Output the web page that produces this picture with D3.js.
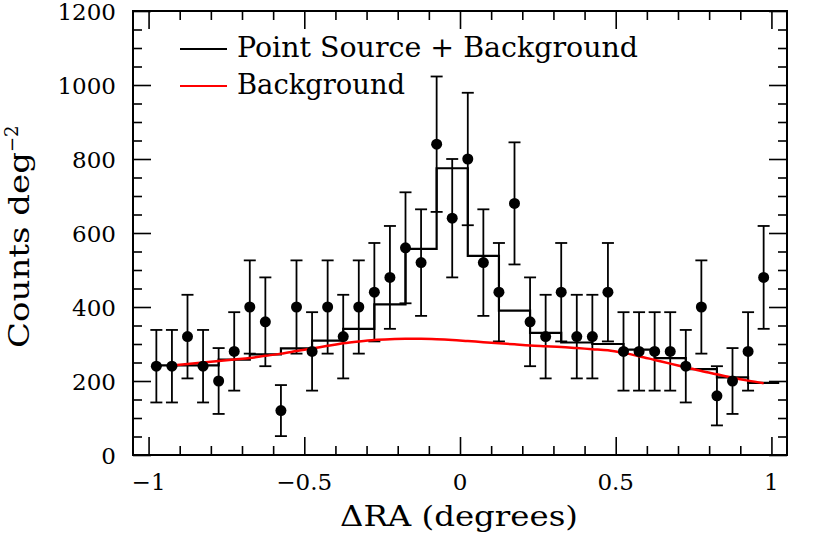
<!DOCTYPE html>
<html lang="en">
<head>
<meta charset="utf-8">
<title>Counts vs dRA</title>
<script src="https://cdn.jsdelivr.net/npm/d3@7"></script>
<style>
  body { margin: 0; background: #fff; }
  text { font-family: "DejaVu Serif", "Liberation Serif", serif; fill: #000; }
</style>
</head>
<body>
<script>
// ---- data ----
const pointX = [-0.975, -0.925, -0.875, -0.825, -0.775, -0.725, -0.675, -0.625, -0.575, -0.525,
                -0.475, -0.425, -0.375, -0.325, -0.275, -0.225, -0.175, -0.125, -0.075, -0.025,
                 0.025,  0.075,  0.125,  0.175,  0.225,  0.275,  0.325,  0.375,  0.425,  0.475,
                 0.525,  0.575,  0.625,  0.675,  0.725,  0.775,  0.825,  0.875,  0.925,  0.975];
const counts = [240, 240, 320, 240, 200, 280, 400, 360, 120, 400,
                280, 400, 320, 400, 440, 480, 560, 520, 840, 640,
                800, 520, 440, 680, 360, 320, 440, 320, 320, 440,
                280, 280, 280, 280, 240, 400, 160, 200, 280, 480];
const countErr = [98, 98, 113, 98, 89, 106, 126, 120, 69, 126,
                  106, 126, 113, 126, 133, 139, 150, 144, 183, 160,
                  179, 144, 133, 165, 120, 113, 133, 113, 113, 133,
                  106, 106, 106, 106, 98, 126, 80, 89, 106, 139];

// model histogram (point source + background), bin edges and heights
const binEdges = [-0.975, -0.875, -0.775, -0.675, -0.575, -0.475, -0.375, -0.275, -0.175, -0.075,
                   0.025,  0.125,  0.225,  0.325,  0.425,  0.525,  0.625,  0.725,  0.825,  0.925, 1.025];
const modelVals = [242, 242, 258, 272, 288, 309, 341, 407, 557, 775,
                   538, 390, 330, 304, 300, 285, 262, 232, 210, 195];

// background curve
const bgX = [-0.925, -0.875, -0.825, -0.775, -0.725, -0.675, -0.625, -0.575, -0.525, -0.475,
             -0.425, -0.375, -0.325, -0.275, -0.225, -0.175, -0.125, -0.075, -0.025,  0.025,
              0.075,  0.125,  0.175,  0.225,  0.275,  0.325,  0.375,  0.425,  0.475,  0.525,
              0.575,  0.625,  0.675,  0.725,  0.775,  0.825,  0.875,  0.925,  0.975];
const bgVals = [242, 246, 250, 254, 258, 262, 268, 274, 281, 288,
                295, 302, 307, 311, 313, 314, 314, 313, 311, 308,
                305, 302, 299, 296, 294, 292, 289, 286, 283, 276,
                267, 257, 247, 237, 227, 218, 209, 201, 194];

const xTicks = [-1, -0.5, 0, 0.5, 1];
const yTicks = [0, 200, 400, 600, 800, 1000, 1200];
const legendLabels = ["Point Source + Background", "Background"];

// ---- layout ----
const W = 830, H = 544;
const mLeft = 133, mRight = 787, mTop = 11, mBottom = 455;

const svg = d3.select("body").append("svg")
    .attr("width", W).attr("height", H);

const x = d3.scaleLinear().domain([-1.05, 1.05]).range([mLeft, mRight]);
const y = d3.scaleLinear().domain([0, 1200]).range([mBottom, mTop]);

const xMinor = d3.range(-10, 11).map(d => d / 10).filter(d => !xTicks.includes(d));
const yMinor = d3.range(0, 1201, 50).filter(d => d % 200 !== 0);

// axes with mirrored ticks (inward)
function drawAxis(axis, tx, ty) {
    const g = svg.append("g").attr("transform", `translate(${tx},${ty})`).call(axis);
    g.select(".domain").remove();
    g.selectAll("line").attr("stroke", "#000").attr("stroke-width", 1.6);
    return g;
}
const major = 18, minor = 9;
drawAxis(d3.axisBottom(x).tickValues(xTicks).tickSize(-major).tickFormat(""), 0, mBottom);
drawAxis(d3.axisBottom(x).tickValues(xMinor).tickSize(-minor).tickFormat(""), 0, mBottom);
drawAxis(d3.axisTop(x).tickValues(xTicks).tickSize(-major).tickFormat(""), 0, mTop);
drawAxis(d3.axisTop(x).tickValues(xMinor).tickSize(-minor).tickFormat(""), 0, mTop);
drawAxis(d3.axisLeft(y).tickValues(yTicks).tickSize(-major).tickFormat(""), mLeft, 0);
drawAxis(d3.axisLeft(y).tickValues(yMinor).tickSize(-minor).tickFormat(""), mLeft, 0);
drawAxis(d3.axisRight(y).tickValues(yTicks).tickSize(-major).tickFormat(""), mRight, 0);
drawAxis(d3.axisRight(y).tickValues(yMinor).tickSize(-minor).tickFormat(""), mRight, 0);

// tick labels
const fmtX = d => d === 0 ? "0" : d3.format("")(d).replace("-", "\u2212");
svg.append("g").selectAll("text").data(xTicks).join("text")
    .attr("x", d => x(d)).attr("y", 490)
    .attr("text-anchor", "middle").attr("font-size", 23)
    .text(fmtX);
svg.append("g").selectAll("text").data(yTicks).join("text")
    .attr("x", 116).attr("y", d => y(d) + 9)
    .attr("text-anchor", "end").attr("font-size", 23)
    .text(d => d);

// frame
svg.append("rect")
    .attr("x", mLeft).attr("y", mTop)
    .attr("width", mRight - mLeft).attr("height", mBottom - mTop)
    .attr("fill", "none").attr("stroke", "#000").attr("stroke-width", 2);

// axis titles
svg.append("text")
    .attr("x", 340).attr("y", 526)
    .attr("font-size", 27)
    .attr("textLength", 238).attr("lengthAdjust", "spacingAndGlyphs")
    .text("\u0394RA (degrees)");

const yTitle = svg.append("text")
    .attr("transform", "translate(29,348) rotate(-90)")
    .attr("font-size", 28);
yTitle.append("tspan").attr("textLength", 196).attr("lengthAdjust", "spacingAndGlyphs").text("Counts deg");
yTitle.append("tspan").attr("dy", -11).attr("font-size", 18).text("\u22122");

// error bars
const capW = 6;
const pts = pointX.map((d, i) => ({x: d, v: counts[i], e: countErr[i]}));
const eb = svg.append("g").attr("stroke", "#000").attr("stroke-width", 1.8);
eb.selectAll(".bar").data(pts).join("line").attr("class", "bar")
    .attr("x1", d => x(d.x)).attr("x2", d => x(d.x))
    .attr("y1", d => y(d.v - d.e)).attr("y2", d => y(d.v + d.e));
eb.selectAll(".capT").data(pts).join("line").attr("class", "capT")
    .attr("x1", d => x(d.x) - capW).attr("x2", d => x(d.x) + capW)
    .attr("y1", d => y(d.v + d.e)).attr("y2", d => y(d.v + d.e));
eb.selectAll(".capB").data(pts).join("line").attr("class", "capB")
    .attr("x1", d => x(d.x) - capW).attr("x2", d => x(d.x) + capW)
    .attr("y1", d => y(d.v - d.e)).attr("y2", d => y(d.v - d.e));

// model histogram
const stepData = binEdges.map((e, i) => [e, modelVals[Math.min(i, modelVals.length - 1)]]);
svg.append("path")
    .datum(stepData)
    .attr("fill", "none").attr("stroke", "#000").attr("stroke-width", 2.2)
    .attr("d", d3.line().x(d => x(d[0])).y(d => y(d[1])).curve(d3.curveStepAfter));

// background
svg.append("path")
    .datum(bgX.map((d, i) => [d, bgVals[i]]))
    .attr("fill", "none").attr("stroke", "#ff0000").attr("stroke-width", 2.5)
    .attr("d", d3.line().x(d => x(d[0])).y(d => y(d[1])).curve(d3.curveMonotoneX));

// points
svg.append("g").selectAll("circle").data(pts).join("circle")
    .attr("cx", d => x(d.x)).attr("cy", d => y(d.v))
    .attr("r", 5.5).attr("fill", "#000");

// legend
const legColors = ["#000", "#ff0000"];
const legWidths = [401, 168];
const leg = svg.append("g").selectAll("g").data(legendLabels).join("g")
    .attr("transform", (d, i) => `translate(180,${49 + i * 37})`);
leg.append("line")
    .attr("x1", 0).attr("x2", 47).attr("y1", 0).attr("y2", 0)
    .attr("stroke", (d, i) => legColors[i]).attr("stroke-width", 2.2);
leg.append("text")
    .attr("x", 57).attr("y", 8)
    .attr("font-size", 27)
    .attr("textLength", (d, i) => legWidths[i]).attr("lengthAdjust", "spacingAndGlyphs")
    .text(d => d);
</script>
</body>
</html>
